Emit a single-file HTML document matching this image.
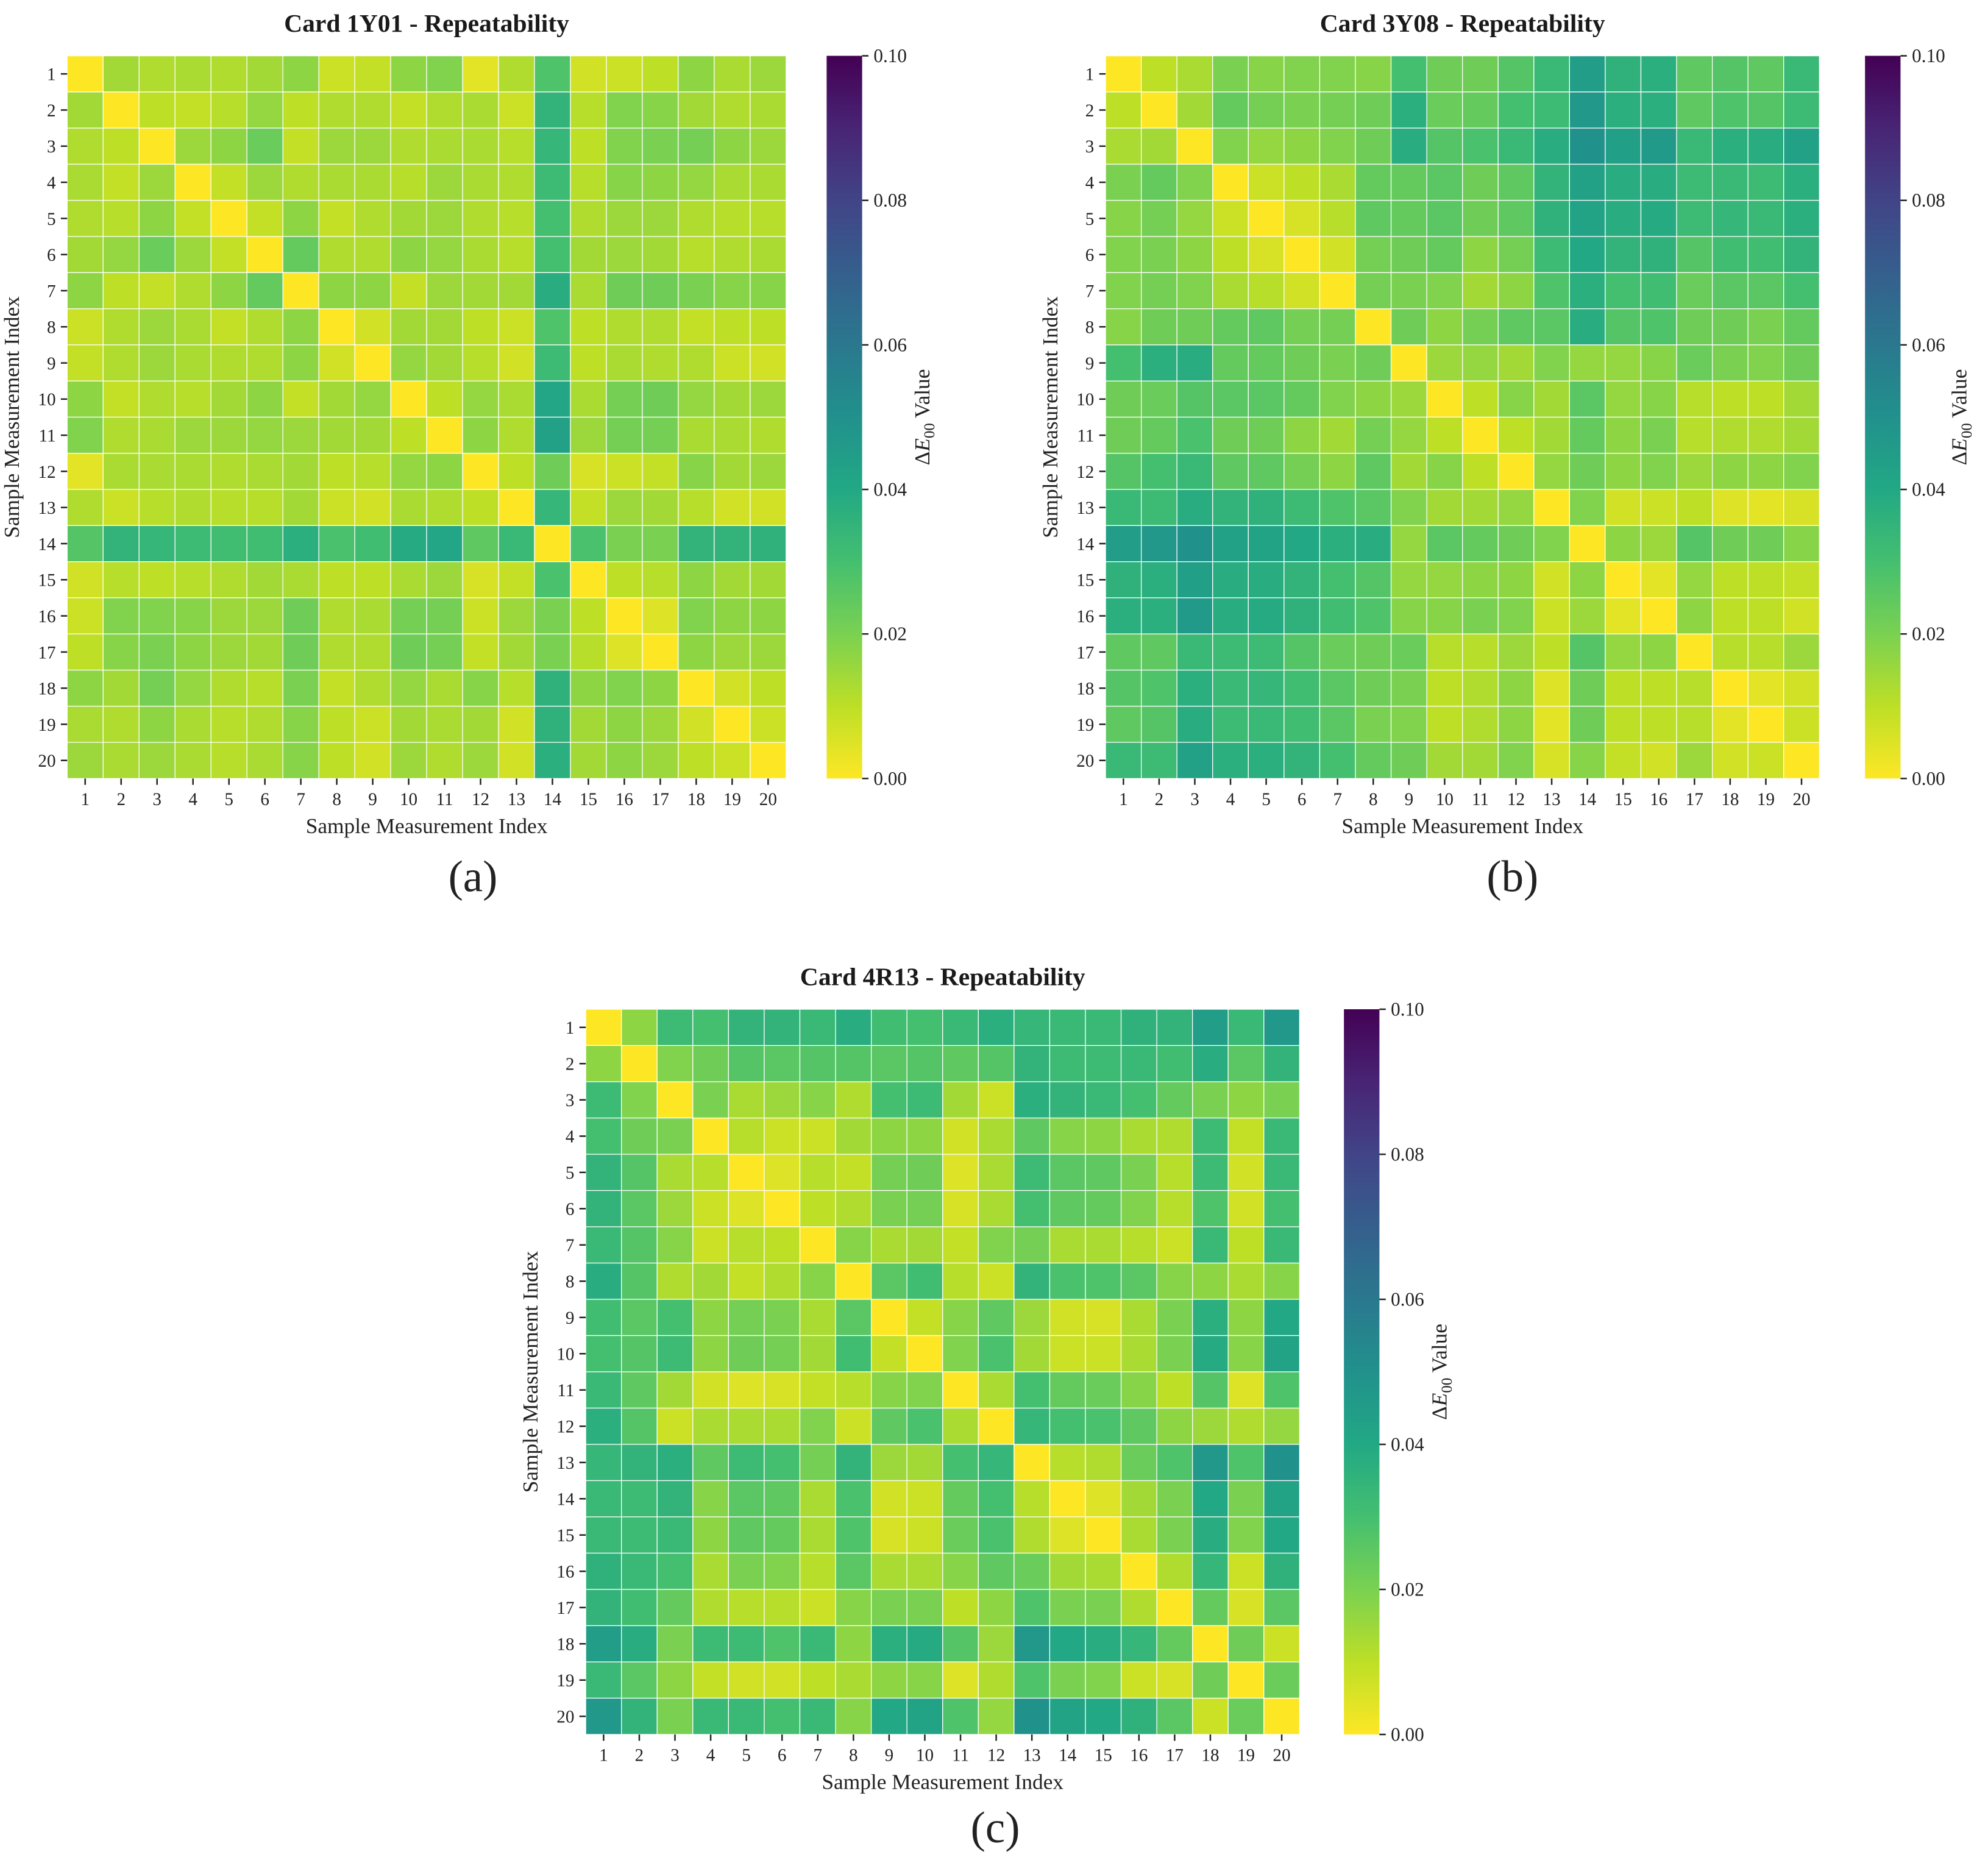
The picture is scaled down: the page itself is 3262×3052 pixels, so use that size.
<!DOCTYPE html>
<html><head><meta charset="utf-8"><style>
html,body{margin:0;padding:0;background:#fff;}
svg{display:block;font-family:"Liberation Serif",serif;}
</style></head><body>
<svg id="fig" width="3262" height="3052" viewBox="0 0 1568 1467" xmlns="http://www.w3.org/2000/svg">
<defs>
<linearGradient id="vgrad" x1="0" y1="1" x2="0" y2="0">
<stop offset="0" stop-color="#fde725"/><stop offset="0.1" stop-color="#bddf26"/><stop offset="0.2" stop-color="#7ad151"/><stop offset="0.3" stop-color="#44bf70"/><stop offset="0.4" stop-color="#22a884"/><stop offset="0.5" stop-color="#21918c"/><stop offset="0.6" stop-color="#2a788e"/><stop offset="0.7" stop-color="#355f8d"/><stop offset="0.8" stop-color="#414487"/><stop offset="0.9" stop-color="#482475"/><stop offset="1" stop-color="#440154"/>
</linearGradient>
</defs>
</svg>
<script>
// values in units of 0.001 ΔE00
const labels = ["1","2","3","4","5","6","7","8","9","10","11","12","13","14","15","16","17","18","19","20"];
const cbTicks = [0, 0.02, 0.04, 0.06, 0.08, 0.10];
const cbTickLabels = ["0.00","0.02","0.04","0.06","0.08","0.10"];
const dataA = [
[0,14,12,13,12,14,17,8,9,17,19,4,12,28,7,8,10,17,13,15],
[14,0,10,9,11,16,10,12,12,9,12,13,8,35,11,19,18,14,12,13],
[12,10,0,15,17,23,9,15,15,12,13,13,11,34,10,19,20,21,17,15],
[13,9,15,0,9,15,12,13,13,11,15,13,12,32,11,18,17,16,13,13],
[12,11,17,9,0,9,17,9,12,14,15,12,11,30,12,15,15,12,11,11],
[14,16,23,15,9,0,24,12,12,17,16,13,11,30,14,15,14,11,12,13],
[17,10,9,12,17,24,0,17,17,9,15,14,14,38,13,22,22,20,18,18],
[8,12,15,13,9,12,17,0,7,14,14,10,8,28,10,12,12,9,10,10],
[9,12,15,13,12,12,17,7,0,16,14,11,7,32,10,13,12,12,8,7],
[17,9,12,11,14,17,9,14,16,0,10,16,13,41,13,21,22,16,14,15],
[19,12,13,15,15,16,15,14,14,10,0,17,12,43,15,21,21,13,13,12],
[4,13,13,13,12,13,14,10,11,16,17,0,10,22,6,8,9,18,14,15],
[12,8,11,12,11,11,14,8,7,13,12,10,0,34,9,15,14,11,7,7],
[27,35,34,32,31,31,37,29,31,39,41,25,33,0,29,20,20,35,35,36],
[7,11,10,11,12,14,13,10,10,13,15,6,9,29,0,10,11,17,14,14],
[8,19,19,18,15,15,22,12,13,21,21,8,15,20,10,0,5,19,17,17],
[10,18,20,17,15,14,22,12,12,22,21,9,14,20,11,5,0,17,15,15],
[17,14,21,16,12,11,20,9,12,16,13,18,11,36,17,19,17,0,7,10],
[13,12,17,13,11,12,18,10,8,14,13,14,7,36,14,17,15,7,0,8],
[15,13,15,13,11,13,18,10,7,15,12,15,7,37,14,17,15,10,8,0]];
const dataB = [
[0,10,13,20,18,19,19,18,30,22,22,27,33,45,36,37,25,27,25,33],
[10,0,14,24,21,20,21,22,37,23,24,30,32,47,37,37,25,28,27,32],
[13,14,0,19,16,17,19,22,38,27,29,33,38,50,44,46,33,37,38,43],
[20,24,19,0,8,10,13,24,24,26,22,25,35,43,38,38,32,33,32,37],
[18,21,16,8,0,6,11,25,24,26,22,25,36,42,38,39,32,34,33,37],
[19,20,17,10,6,0,7,21,22,24,17,21,32,40,35,36,27,31,31,35],
[19,21,19,13,11,7,0,21,20,19,14,17,28,37,30,31,23,26,26,30],
[18,22,22,24,25,21,21,0,22,17,21,25,26,38,27,28,22,22,20,24],
[30,37,38,24,24,22,20,22,0,15,16,14,19,16,16,18,23,20,19,22],
[22,23,27,26,26,24,19,17,15,0,10,18,14,26,16,18,11,10,10,14],
[22,24,29,22,22,17,14,21,16,10,0,10,14,24,17,20,11,12,12,14],
[27,30,33,25,25,21,17,25,14,18,10,0,16,22,17,19,15,17,17,19],
[33,32,38,35,36,32,28,26,19,14,14,16,0,19,7,8,10,5,4,6],
[45,47,50,43,42,40,37,38,16,26,24,22,19,0,17,15,27,22,22,18],
[36,37,44,38,38,35,30,27,16,16,17,17,7,17,0,4,16,10,10,9],
[37,37,46,38,39,36,31,28,18,18,20,19,8,15,4,0,17,10,10,7],
[25,25,33,32,32,27,23,22,23,11,11,15,10,27,16,17,0,11,11,15],
[27,28,37,33,34,31,26,22,20,10,12,17,5,22,10,10,11,0,4,7],
[25,27,38,32,33,31,26,20,19,10,12,17,4,22,10,10,11,4,0,8],
[33,32,43,37,37,35,30,24,22,14,14,19,6,18,9,7,15,7,8,0]];
const dataC = [
[0,17,32,30,35,35,33,38,31,30,33,37,34,33,33,36,35,45,33,47],
[17,0,19,22,27,26,27,27,26,27,25,27,35,32,32,33,31,38,26,35],
[32,19,0,20,13,15,18,12,30,32,14,8,37,35,33,30,24,20,17,20],
[30,22,20,0,11,8,8,14,17,17,7,13,25,18,17,13,12,32,9,33],
[35,27,13,11,0,5,11,9,21,22,5,13,32,26,25,20,11,32,7,33],
[35,26,15,8,5,0,10,12,20,21,6,13,30,25,24,19,11,28,7,30],
[33,27,18,8,11,10,0,18,13,14,9,19,21,13,13,11,8,33,10,33],
[38,27,12,14,9,12,18,0,26,31,11,8,35,29,28,26,18,17,13,18],
[31,26,30,17,21,20,13,26,0,9,18,25,15,7,6,13,20,37,17,40],
[30,27,32,17,22,21,14,31,9,0,19,29,14,8,8,13,20,39,18,42],
[33,25,14,7,5,6,9,11,18,19,0,13,30,24,23,18,10,27,5,28],
[37,27,8,13,13,13,19,8,25,29,13,0,34,30,29,25,17,15,12,16],
[34,35,37,25,32,30,21,35,15,14,30,34,0,11,12,23,28,47,28,50],
[33,32,35,18,26,25,13,29,7,8,24,30,11,0,5,14,20,40,20,42],
[33,32,33,17,25,24,13,28,6,8,23,29,12,5,0,13,20,38,19,40],
[36,33,30,13,20,19,11,26,13,13,18,25,23,14,13,0,12,34,8,36],
[35,31,24,12,11,11,8,18,20,20,10,17,28,20,20,12,0,24,6,26],
[45,38,20,32,32,28,33,17,37,39,27,15,47,40,38,34,24,0,22,8],
[33,26,17,9,7,7,10,13,17,18,5,12,28,20,19,8,6,22,0,23],
[47,35,20,33,33,30,33,18,40,42,28,16,50,42,40,36,26,8,23,0]];
const titles = ["Card 1Y01 - Repeatability","Card 3Y08 - Repeatability","Card 4R13 - Repeatability"];
const panelLetters = ["(a)","(b)","(c)"];

const VIR = ["#440154","#482475","#414487","#355f8d","#2a788e","#21918c","#22a884","#44bf70","#7ad151","#bddf26","#fde725"];
function hex(h){return [parseInt(h.substr(1,2),16),parseInt(h.substr(3,2),16),parseInt(h.substr(5,2),16)];}
function colorFor(v){
  let t = Math.max(0,Math.min(1,v/0.1)); t = 1 - t;
  const p = t*10, i = Math.min(9,Math.floor(p)), f = p - i;
  const a = hex(VIR[i]), b = hex(VIR[i+1]);
  return "rgb("+a.map((c,k)=>Math.round(c+(b[k]-c)*f)).join(",")+")";
}
const NS="http://www.w3.org/2000/svg";
const svg=document.getElementById('fig');
function el(tag,attrs,parent){const e=document.createElementNS(NS,tag);for(const k in attrs)e.setAttribute(k,attrs[k]);(parent||svg).appendChild(e);return e;}
function txt(s,attrs,parent){const e=el('text',attrs,parent);e.textContent=s;return e;}

const panels=[
 {x0:53,x1:620,y0:44,y1:614,cbx:652,cbl:733,lx:373,ly:703},
 {x0:872,x1:1435,y0:44,y1:614,cbx:1471,cbl:1551,lx:1193,ly:703},
 {x0:462,x1:1025,y0:796,y1:1368,cbx:1060,cbl:1141,lx:785,ly:1453}];
const datasets=[dataA,dataB,dataC];

panels.forEach((P,pi)=>{
  const data=datasets[pi];
  const g=el('g',{});
  
  
  const n=labels.length, cw=(P.x1-P.x0)/n, ch=(P.y1-P.y0)/n;
  const xs=i=>P.x0+i*cw, ys=j=>P.y0+j*ch;
  const t=txt(titles[pi],{x:(P.x0+P.x1)/2,y:P.y0-19,'text-anchor':'middle','font-size':20,'font-weight':'bold',fill:'#1a1a1a'},g);
  
  
  for(let r=0;r<n;r++)for(let c=0;c<n;c++){
    const rc=el('rect',{x:xs(c),y:ys(r),width:cw,height:ch,fill:colorFor(data[r][c]/1000),stroke:'#fff','stroke-width':0.6},g);
    
    
  }
  for(let i=0;i<n;i++){
    const cy=ys(i)+ch/2, cx=xs(i)+cw/2;
    el('line',{x1:P.x0-5,y1:cy,x2:P.x0,y2:cy,stroke:'#222','stroke-width':1.2},g);
    const yl=txt(labels[i],{x:P.x0-9,y:cy+5,'text-anchor':'end','font-size':14,fill:'#222'},g);
    
    
    el('line',{x1:cx,y1:P.y1,x2:cx,y2:P.y1+5,stroke:'#222','stroke-width':1.2},g);
    const xl=txt(labels[i],{x:cx,y:P.y1+21,'text-anchor':'middle','font-size':14,fill:'#222'},g);
    
    
  }
  const xt=txt('Sample Measurement Index',{x:(P.x0+P.x1)/2,y:P.y1+43,'text-anchor':'middle','font-size':17,fill:'#222'},g);
  
  
  const ym=(P.y0+P.y1)/2, yx=P.x0-38;
  const yt=txt('Sample Measurement Index',{x:yx,y:ym,'text-anchor':'middle','font-size':17,fill:'#222',transform:'rotate(-90 '+yx+' '+ym+')'},g);
  
  
  const cb=el('rect',{x:P.cbx,y:P.y0,width:28,height:P.y1-P.y0,fill:'url(#vgrad)'},g);
  
  
  cbTicks.forEach((v,k)=>{
    const y=P.y1-(v/0.1)*(P.y1-P.y0);
    el('line',{x1:P.cbx+28,y1:y,x2:P.cbx+33,y2:y,stroke:'#222','stroke-width':1.2},g);
    const cl=txt(cbTickLabels[k],{x:P.cbx+37,y:y+5,'font-size':15,fill:'#222'},g);
    
    
  });
  const ct=el('text',{x:P.cbl,y:ym,'text-anchor':'middle','font-size':17,fill:'#222',transform:'rotate(-90 '+P.cbl+' '+ym+')'},g);
  ct.innerHTML='Δ<tspan font-style="italic">E</tspan><tspan font-size="12" dy="4">00</tspan><tspan dy="-4"> Value</tspan>';
  
  
  const pl=txt(panelLetters[pi],{x:P.lx,y:P.ly,'text-anchor':'middle','font-size':35,fill:'#222'},g);
  
  
});
</script>
</body></html>
